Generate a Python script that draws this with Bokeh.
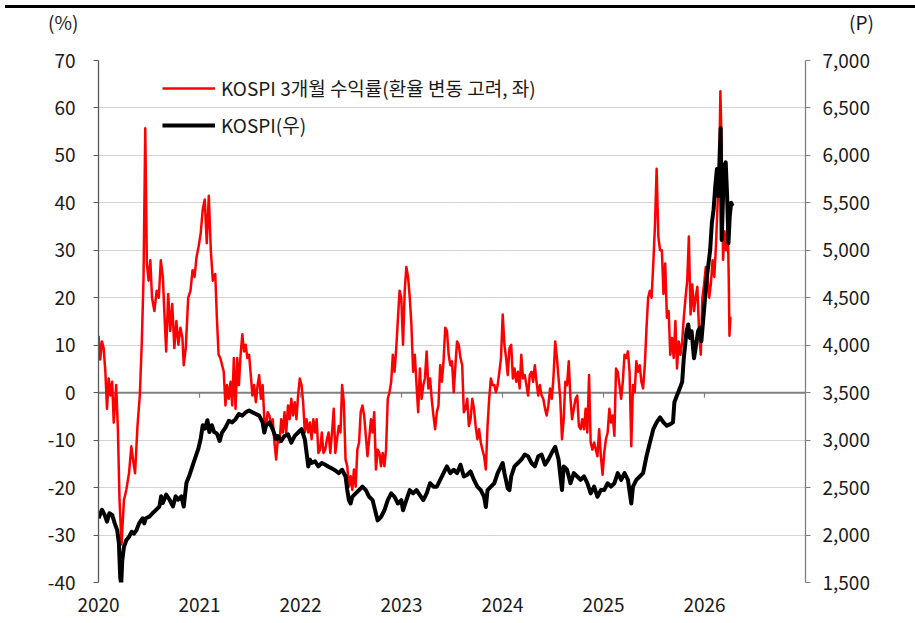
from bokeh.plotting import figure
from bokeh.models import (Range1d, LinearAxis, FixedTicker, NumeralTickFormatter,
                          PrintfTickFormatter, Span, Legend, LegendItem, Div)
from bokeh.layouts import column
from bokeh.embed import file_html
from bokeh.resources import INLINE

FONT = "Noto Sans CJK KR"

# ---------------- data (decimal year, value) ----------------
ret_t = [
    2020.001, 2020.017, 2020.034, 2020.051, 2020.068, 2020.084, 2020.101, 2020.118, 2020.135, 2020.151,
    2020.175, 2020.192, 2020.208, 2020.228, 2020.252, 2020.275, 2020.302, 2020.325, 2020.342, 2020.362,
    2020.386, 2020.409, 2020.429, 2020.446, 2020.463, 2020.479, 2020.496, 2020.513, 2020.530, 2020.553,
    2020.576, 2020.597, 2020.617, 2020.637, 2020.653, 2020.670, 2020.690, 2020.710, 2020.730, 2020.751,
    2020.771, 2020.791, 2020.811, 2020.831, 2020.844, 2020.864, 2020.888, 2020.911, 2020.931, 2020.951,
    2020.971, 2020.991, 2021.012, 2021.032, 2021.052, 2021.072, 2021.092, 2021.112, 2021.132, 2021.156,
    2021.172, 2021.189, 2021.206, 2021.240, 2021.257, 2021.273, 2021.290, 2021.307, 2021.324, 2021.340,
    2021.357, 2021.374, 2021.390, 2021.407, 2021.424, 2021.441, 2021.457, 2021.474, 2021.491, 2021.508,
    2021.524, 2021.541, 2021.558, 2021.575, 2021.591, 2021.608, 2021.625, 2021.642, 2021.658, 2021.675,
    2021.692, 2021.708, 2021.725, 2021.742, 2021.759, 2021.775, 2021.792, 2021.809, 2021.826, 2021.842,
    2021.859, 2021.876, 2021.893, 2021.909, 2021.926, 2021.943, 2021.960, 2021.976, 2021.993, 2022.010,
    2022.026, 2022.043, 2022.060, 2022.077, 2022.093, 2022.110, 2022.127, 2022.144, 2022.160, 2022.177,
    2022.194, 2022.211, 2022.227, 2022.245, 2022.262, 2022.278, 2022.295, 2022.312, 2022.329, 2022.345,
    2022.362, 2022.379, 2022.396, 2022.412, 2022.429, 2022.446, 2022.463, 2022.479, 2022.496, 2022.513,
    2022.529, 2022.546, 2022.563, 2022.580, 2022.596, 2022.613, 2022.630, 2022.647, 2022.663, 2022.680,
    2022.697, 2022.714, 2022.730, 2022.747, 2022.764, 2022.781, 2022.797, 2022.814, 2022.831, 2022.847,
    2022.864, 2022.881, 2022.898, 2022.914, 2022.931, 2022.948, 2022.965, 2022.981, 2022.998, 2023.015,
    2023.032, 2023.048, 2023.065, 2023.082, 2023.098, 2023.115, 2023.132, 2023.149, 2023.165, 2023.182,
    2023.199, 2023.216, 2023.232, 2023.249, 2023.266, 2023.283, 2023.299, 2023.316, 2023.333, 2023.350,
    2023.366, 2023.383, 2023.400, 2023.416, 2023.433, 2023.450, 2023.467, 2023.483, 2023.500, 2023.517,
    2023.534, 2023.550, 2023.567, 2023.584, 2023.601, 2023.617, 2023.634, 2023.651, 2023.667, 2023.684,
    2023.701, 2023.718, 2023.734, 2023.751, 2023.768, 2023.785, 2023.801, 2023.818, 2023.835, 2023.852,
    2023.868, 2023.885, 2023.902, 2023.919, 2023.935, 2023.952, 2023.969, 2023.985, 2024.002, 2024.019,
    2024.036, 2024.052, 2024.069, 2024.086, 2024.103, 2024.119, 2024.136, 2024.153, 2024.170, 2024.186,
    2024.203, 2024.220, 2024.237, 2024.253, 2024.270, 2024.287, 2024.303, 2024.320, 2024.337, 2024.354,
    2024.370, 2024.387, 2024.404, 2024.421, 2024.437, 2024.454, 2024.471, 2024.488, 2024.504, 2024.522,
    2024.539, 2024.555, 2024.572, 2024.589, 2024.606, 2024.622, 2024.639, 2024.656, 2024.673, 2024.689,
    2024.706, 2024.723, 2024.740, 2024.756, 2024.773, 2024.790, 2024.807, 2024.823, 2024.840, 2024.857,
    2024.873, 2024.890, 2024.907, 2024.924, 2024.940, 2024.957, 2024.974, 2024.991, 2025.007, 2025.024,
    2025.041, 2025.058, 2025.074, 2025.091, 2025.108, 2025.124, 2025.141, 2025.158, 2025.175, 2025.191,
    2025.208, 2025.225, 2025.242, 2025.258, 2025.275, 2025.292, 2025.309, 2025.325, 2025.342, 2025.359,
    2025.375, 2025.392, 2025.409, 2025.426, 2025.442, 2025.459, 2025.476, 2025.493, 2025.509, 2025.526,
    2025.543, 2025.560, 2025.578, 2025.594, 2025.611, 2025.628, 2025.645, 2025.661, 2025.678, 2025.695,
    2025.712, 2025.728, 2025.745, 2025.762, 2025.779, 2025.795, 2025.812, 2025.829, 2025.845, 2025.862,
    2025.879, 2025.896, 2025.912, 2025.929, 2025.946, 2025.963, 2025.979, 2025.996, 2026.013, 2026.030,
    2026.046, 2026.063, 2026.080, 2026.097, 2026.113, 2026.130, 2026.147, 2026.157, 2026.170, 2026.184,
    2026.197, 2026.214, 2026.230, 2026.240, 2026.247, 2026.257,
]
ret_pct = [
    12, 7, 10.8, 9.4, 4.4, -3.4, 3, -0.6, 2.3, -6.3,
    1.6, -7.7, -22.6, -32, -22.6, -20.5, -17, -11.3, -14.1, -17,
    -7, -0.6, 10.8, 24.4, 55.7, 27.2, 23.6, 27.9, 20, 17.2,
    21.5, 20, 27.9, 24.4, 16.5, 8.7, 20.8, 13, 18.7, 9.4,
    15.1, 10.1, 13.7, 11.5, 5.8, 9.4, 20, 21.5, 25.8, 24.4,
    28.6, 30.8, 33.6, 38.6, 40.7, 31.5, 41.5, 30, 23.6, 25,
    15.8, 8, 7.3, 4.4, -2.7, 1.6, -1.3, 2.3, -2.7, 7.3,
    -3.4, 7.3, 1.6, 8, 12.3, 8.7, 10.1, 7.3, 8, 3.7,
    -0.6, 1.6, -2, 1.6, 3.7, -1.3, 1.6, -5.6, -7, -4.1,
    -4.8, -7, -5.6, -10.5, -14.1, -9.8, -10.5, -5.6, -8.4, -4.1,
    -8.4, -2.7, -5.6, -1.3, -4.8, -2, -5.6, -0.6, 3, 1.6,
    -2, -8.4, -5.6, -8.4, -6.3, -9.8, -5.6, -8.4, -5.6, -12.7,
    -12, -8.4, -12.7, -12, -9.8, -8.4, -12.7, -8.4, -3.4, -12.7,
    -9.8, -7, -8.4, 1.6, -2, -14.1, -15.5, -19.8, -17.6, -20.5,
    -16.2, -19.8, -12, -10.5, -4.1, -2.7, -4.8, -9.1, -13.4, -9.8,
    -5.6, -8.4, -4.1, -16.2, -12, -12.7, -15.5, -12.7, -15.5, -12,
    -1.3, 0.1, 2.3, 8, 4.4, 9.4, 15.8, 21.5, 20, 10.1,
    21.5, 26.5, 24.4, 20, 14.4, 4.4, 8, 1.6, -4.1, 5.1,
    -1.3, 1.6, 3, 8.7, 0.9, 3, -1.3, -4.8, -7.7, -4.1,
    -2.7, 5.8, 2.3, 6.6, 13.7, 13, 8, 5.8, 6.6, 0.1,
    5.8, 10.8, 10.1, 7.3, 5.8, -4.1, -3.4, -1.3, -7, -5.6,
    -1.3, -3.4, -7, -9.8, -7.7, -10.5, -12, -13.4, -16.2, -7,
    -1.3, 3, 1.6, 1.6, 0.1, 1.6, 4.4, 7.3, 16.5, 10.1,
    7.3, 3.7, 9.4, 10.1, 3, 5.1, 2.3, 4.4, 0.9, 8,
    3, 3.7, 1.6, -0.6, 3.7, 4.4, 2.3, 5.8, 2.3, -0.6,
    1.6, -0.6, -1.3, -3.4, -4.8, -2.7, 0.9, -1.3, 3, 10.8,
    7.3, 3, -1.3, -9.8, -5.6, 2.3, 1.6, 6.6, -1.3, -5.6,
    -3.4, -1.3, -0.6, -7, -7.7, -5.6, -7.7, -3.4, -8.4, 3.7,
    -10.5, -12, -10.5, -12, -13.4, -7.7, -13.4, -17.3, -12.7, -9.8,
    -8.4, -3.4, -6.3, -4.8, -9.1, 5.1, 4.4, 1.6, -1.3, 2.3,
    8, 7.3, 8.7, 4.4, -11.3, 1.6, 0.1, 6.6, 4.4, 5.8,
    2.3, 0.9, 5.8, 13.7, 20, 21.5, 20, 27.2, 35, 47.2,
    32.9, 30, 30, 20.8, 27.2, 15.8, 17.2, 8, 11.5, 7.3,
    15.1, 5.1, 10.8, 8, 10.8, 15.8, 20, 23.6, 32.9, 16.5,
    22.8, 17.2, 20, 22.3, 13, 8, 20, 22.9, 26.5, 24.4,
    20, 22.9, 27.9, 24.4, 30.8, 40, 48.6, 63.5, 52, 28,
    34, 30, 36, 24, 12, 16,
]

kospi_t = [
    2020.001, 2020.034, 2020.061, 2020.084, 2020.108, 2020.135, 2020.161, 2020.185, 2020.202, 2020.215,
    2020.225, 2020.235, 2020.252, 2020.275, 2020.302, 2020.329, 2020.352, 2020.376, 2020.402, 2020.436,
    2020.453, 2020.469, 2020.503, 2020.536, 2020.570, 2020.603, 2020.620, 2020.637, 2020.670, 2020.704,
    2020.737, 2020.764, 2020.787, 2020.821, 2020.844, 2020.871, 2020.898, 2020.931, 2020.965, 2020.988,
    2021.012, 2021.032, 2021.055, 2021.078, 2021.098, 2021.122, 2021.145, 2021.172, 2021.200, 2021.223,
    2021.257, 2021.290, 2021.324, 2021.357, 2021.390, 2021.424, 2021.457, 2021.491, 2021.524, 2021.558,
    2021.591, 2021.625, 2021.642, 2021.658, 2021.692, 2021.725, 2021.759, 2021.775, 2021.809, 2021.842,
    2021.876, 2021.909, 2021.943, 2021.976, 2022.010, 2022.043, 2022.060, 2022.077, 2022.093, 2022.110,
    2022.144, 2022.177, 2022.211, 2022.245, 2022.278, 2022.312, 2022.345, 2022.379, 2022.412, 2022.446,
    2022.463, 2022.479, 2022.496, 2022.513, 2022.546, 2022.580, 2022.613, 2022.647, 2022.680, 2022.714,
    2022.747, 2022.764, 2022.797, 2022.831, 2022.864, 2022.898, 2022.931, 2022.965, 2022.998, 2023.015,
    2023.048, 2023.082, 2023.115, 2023.149, 2023.182, 2023.216, 2023.249, 2023.283, 2023.316, 2023.350,
    2023.383, 2023.416, 2023.450, 2023.483, 2023.517, 2023.550, 2023.584, 2023.617, 2023.651, 2023.684,
    2023.718, 2023.751, 2023.785, 2023.818, 2023.835, 2023.852, 2023.885, 2023.919, 2023.952, 2023.985,
    2024.002, 2024.019, 2024.052, 2024.069, 2024.086, 2024.119, 2024.153, 2024.186, 2024.220, 2024.253,
    2024.287, 2024.320, 2024.354, 2024.387, 2024.421, 2024.454, 2024.488, 2024.522, 2024.555, 2024.589,
    2024.606, 2024.639, 2024.673, 2024.706, 2024.740, 2024.773, 2024.807, 2024.840, 2024.873, 2024.907,
    2024.940, 2024.974, 2025.007, 2025.041, 2025.074, 2025.108, 2025.141, 2025.175, 2025.208, 2025.242,
    2025.275, 2025.292, 2025.325, 2025.359, 2025.392, 2025.426, 2025.459, 2025.493, 2025.526, 2025.560,
    2025.594, 2025.628, 2025.661, 2025.688, 2025.702, 2025.728, 2025.755, 2025.779, 2025.795, 2025.822,
    2025.839, 2025.856, 2025.872, 2025.896, 2025.912, 2025.936, 2025.956, 2025.969, 2025.989, 2026.006,
    2026.023, 2026.040, 2026.056, 2026.073, 2026.090, 2026.107, 2026.123, 2026.137, 2026.150, 2026.160,
    2026.170, 2026.184, 2026.197, 2026.210, 2026.224, 2026.237, 2026.250, 2026.264, 2026.277,
]
kospi_pt = [
    2177, 2266, 2212, 2141, 2230, 2212, 2123, 2052, 1910, 1553,
    1480, 1731, 1874, 1945, 1981, 2034, 2016, 2052, 2123, 2177,
    2123, 2177, 2194, 2230, 2266, 2301, 2408, 2337, 2426, 2372,
    2301, 2408, 2372, 2408, 2301, 2550, 2622, 2729, 2836, 2907,
    3014, 3157, 3121, 3210, 3085, 3157, 3085, 3070, 2991, 3080,
    3133, 3204, 3187, 3222, 3276, 3258, 3293, 3311, 3293, 3276,
    3258, 3187, 3080, 3151, 3187, 3115, 3009, 3044, 2991, 3044,
    3062, 2973, 3044, 3080, 3115, 3009, 2866, 2723, 2795, 2759,
    2777, 2723, 2759, 2740, 2720, 2700, 2680, 2652, 2688, 2617,
    2474, 2368, 2332, 2403, 2439, 2474, 2510, 2474, 2403, 2368,
    2225, 2154, 2190, 2261, 2368, 2439, 2403, 2332, 2368, 2261,
    2368, 2474, 2439, 2474, 2421, 2368, 2439, 2546, 2510, 2510,
    2581, 2652, 2723, 2652, 2688, 2652, 2741, 2617, 2635, 2670,
    2581, 2510, 2474, 2403, 2296, 2474, 2510, 2546, 2652, 2723,
    2759, 2652, 2492, 2474, 2617, 2723, 2759, 2795, 2848, 2830,
    2759, 2723, 2830, 2848, 2741, 2795, 2866, 2930, 2795, 2474,
    2723, 2688, 2546, 2652, 2617, 2581, 2617, 2546, 2439, 2510,
    2403, 2474, 2474, 2546, 2510, 2546, 2652, 2581, 2652, 2581,
    2332, 2510, 2581, 2617, 2652, 2830, 2973, 3115, 3187, 3240,
    3187, 3151, 3169, 3187, 3400, 3472, 3543, 3614, 3863, 4148,
    4219, 4077, 4148, 3863, 3970, 4148, 4184, 4041, 4291, 4504,
    4718, 4860, 5003, 5288, 5430, 5679, 5857, 5572, 6000, 6285,
    5110, 5572, 5893, 5928, 5572, 5074, 5359, 5501, 5466,
]

year_ticks = [2020, 2021, 2022, 2023, 2024, 2025, 2026]
pct_ticks = [-40, -30, -20, -10, 0, 10, 20, 30, 40, 50, 60, 70]
pt_ticks = [1500, 2000, 2500, 3000, 3500, 4000, 4500, 5000, 5500, 6000, 6500, 7000]
label_ret = "KOSPI 3개월 수익률(환율 변동 고려, 좌)"
label_kospi = "KOSPI(우)"
unit_left = "(%)"
unit_right = "(P)"

TXT = "#1a1a1a"
AX = "#5a5a5a"
FS = "19px"

# ---------------- header: top rule + unit labels ----------------
header_html = (
    '<div style="position:relative;width:910px;height:30px;">'
    '<div style="position:absolute;left:0;top:0;width:910px;height:3px;background:#000;"></div>'
    f'<span style="position:absolute;left:43px;top:6px;line-height:22px;font-family:\'{FONT}\';'
    f'font-size:{FS};color:{TXT};white-space:nowrap;">{unit_left}</span>'
    f'<span style="position:absolute;left:844px;top:6px;line-height:22px;font-family:\'{FONT}\';'
    f'font-size:{FS};color:{TXT};white-space:nowrap;">{unit_right}</span>'
    '</div>'
)
header = Div(text=header_html, width=910, height=30, margin=(5, 0, 0, 5))

# ---------------- figure ----------------
p = figure(frame_width=707, frame_height=522,
           x_range=Range1d(2020, 2027), y_range=Range1d(-40, 70),
           output_backend="svg", toolbar_location=None,
           min_border_left=98, min_border_right=110, min_border_top=25, min_border_bottom=36)
p.outline_line_color = None
p.background_fill_color = "white"
p.border_fill_color = "white"
p.extra_y_ranges = {"kospi": Range1d(1500, 7000)}

# bottom axis: labels only
xa = p.xaxis[0]
xa.ticker = FixedTicker(ticks=year_ticks)
xa.formatter = PrintfTickFormatter(format="%d")
xa.axis_line_color = None
xa.major_tick_line_color = None
xa.minor_tick_line_color = None
xa.major_label_standoff = 9
xa.major_label_text_font = FONT
xa.major_label_text_font_size = FS
xa.major_label_text_color = TXT

ya = p.yaxis[0]
ya.ticker = FixedTicker(ticks=pct_ticks)
ya.formatter = PrintfTickFormatter(format="%d")
ya.axis_line_color = AX
ya.axis_line_width = 1.3
ya.major_tick_line_color = AX
ya.major_tick_in = 0
ya.major_tick_out = 5
ya.minor_tick_line_color = None
ya.major_label_standoff = 18
ya.major_label_text_font = FONT
ya.major_label_text_font_size = FS
ya.major_label_text_color = TXT

ra = LinearAxis(y_range_name="kospi", ticker=FixedTicker(ticks=pt_ticks),
                formatter=NumeralTickFormatter(format="0,0"))
ra.axis_line_color = "#808080"
ra.axis_line_width = 1.3
ra.major_tick_line_color = "#808080"
ra.major_tick_in = 0
ra.major_tick_out = 5
ra.minor_tick_line_color = None
ra.major_label_standoff = 12
ra.major_label_text_font = FONT
ra.major_label_text_font_size = FS
ra.major_label_text_color = TXT
p.add_layout(ra, "right")

p.xgrid.grid_line_color = None
p.ygrid.ticker = FixedTicker(ticks=pct_ticks)
p.ygrid.grid_line_color = "#a8a8a8"
p.ygrid.grid_line_dash = "1 1"
p.ygrid.grid_line_width = 1

p.add_layout(Span(location=0, dimension="width", line_color="#808080",
                  line_width=2, level="underlay"))

r_ret = p.line(ret_t, ret_pct, line_color="#ff0000", line_width=2.5, line_join="round")
r_kospi = p.line(kospi_t, kospi_pt, y_range_name="kospi", line_color="#000000",
                 line_width=4, line_join="round")

# year tick marks hanging under the zero line
p.segment(x0=year_ticks[1:], y0=0, x1=year_ticks[1:], y1=-1.05,
          line_color="#808080", line_width=1.2)

legend = Legend(items=[LegendItem(label=label_ret, renderers=[r_ret]),
                       LegendItem(label=label_kospi, renderers=[r_kospi])],
                location=(64, 444))
legend.background_fill_alpha = 0
legend.border_line_color = None
legend.padding = 0
legend.margin = 0
legend.spacing = 10
legend.glyph_height = 20
legend.label_height = 20
legend.glyph_width = 53
legend.label_standoff = 6
legend.label_text_font = FONT
legend.label_text_font_size = FS
legend.label_text_color = TXT
p.add_layout(legend, "center")

layout = column(header, p, spacing=0)

open("out.html", "w").write(file_html(layout, INLINE))
